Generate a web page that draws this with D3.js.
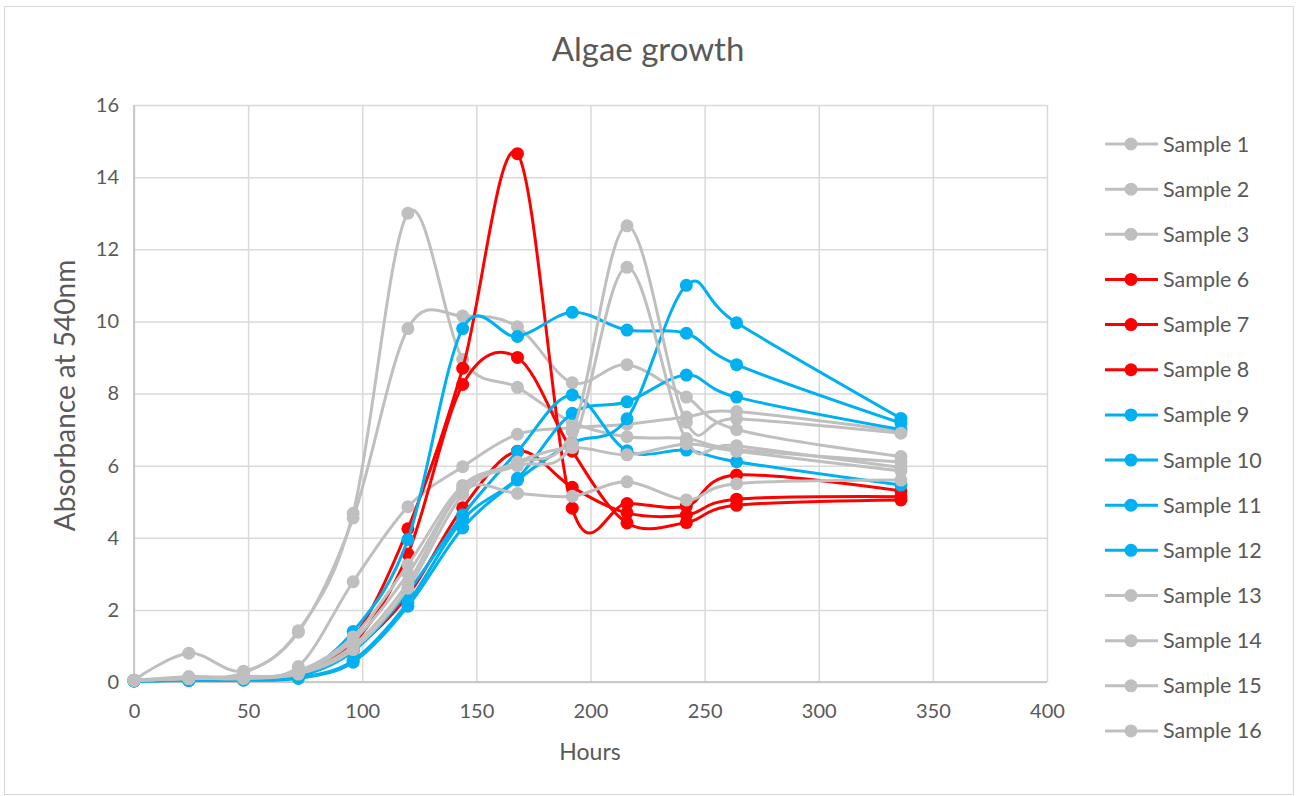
<!DOCTYPE html>
<html>
  <head>
    <meta charset="utf-8">
    <style type="text/css">
      body { margin: 0; background: #fff; font-family: Lato, "Open Sans", sans-serif; }
      .tick text { fill: #595959; font-size: 20px; font-family: Lato, sans-serif; }
    </style>
    <title>Algae growth</title>
  </head>
  <body>
    <script src="https://cdn.jsdelivr.net/npm/d3@7"></script>
    <script>

/*========== Data ==========*/
const hours = [0, 24, 48, 72, 96, 120, 144, 168, 192, 216, 242, 264, 336];

const sample1  = [0.05, 0.80, 0.30, 1.42, 4.68, 13.00, 8.95, 8.17, 7.20, 6.80, 6.75, 6.45, 6.10];
const sample2  = [0.05, 0.15, 0.25, 1.38, 4.55, 9.80, 10.15, 9.85, 8.30, 8.80, 7.90, 7.00, 6.25];
const sample3  = [0.05, 0.12, 0.15, 0.43, 2.78, 4.86, 5.97, 6.87, 7.05, 7.15, 7.35, 7.50, 6.95];
const sample6  = [0.04, 0.07, 0.10, 0.22, 1.20, 4.25, 8.70, 14.65, 4.82, 4.95, 4.88, 5.74, 5.30];
const sample7  = [0.04, 0.07, 0.09, 0.20, 1.05, 3.55, 8.25, 9.00, 6.40, 4.41, 4.42, 4.90, 5.05];
const sample8  = [0.04, 0.06, 0.08, 0.18, 0.90, 2.40, 4.83, 6.40, 5.40, 4.69, 4.63, 5.07, 5.14];
const sample9  = [0.03, 0.05, 0.07, 0.20, 1.40, 3.95, 9.80, 9.58, 10.25, 9.76, 9.67, 8.80, 7.18];
const sample10 = [0.03, 0.05, 0.06, 0.15, 0.85, 2.50, 4.63, 6.39, 7.96, 6.41, 6.43, 6.11, 5.46];
const sample11 = [0.03, 0.05, 0.06, 0.12, 0.60, 2.20, 4.50, 5.65, 7.45, 7.77, 8.51, 7.90, 7.00];
const sample12 = [0.03, 0.04, 0.05, 0.10, 0.55, 2.10, 4.27, 5.60, 6.63, 7.30, 11.00, 9.96, 7.31];
const sample13 = [0.05, 0.10, 0.12, 0.30, 1.25, 3.25, 5.45, 6.08, 6.95, 12.65, 7.20, 7.30, 6.90];
const sample14 = [0.05, 0.10, 0.12, 0.28, 1.15, 3.00, 5.35, 6.00, 6.60, 11.50, 6.70, 6.55, 5.95];
const sample15 = [0.05, 0.10, 0.10, 0.25, 1.00, 2.75, 5.30, 5.23, 5.15, 5.55, 5.05, 5.50, 5.60];
const sample16 = [0.05, 0.10, 0.10, 0.22, 0.90, 2.60, 5.20, 6.10, 6.50, 6.30, 6.60, 6.40, 5.85];

const sampleNames = ['Sample 1', 'Sample 2', 'Sample 3', 'Sample 6', 'Sample 7', 'Sample 8',
  'Sample 9', 'Sample 10', 'Sample 11', 'Sample 12', 'Sample 13', 'Sample 14', 'Sample 15', 'Sample 16'];
const sampleValues = [sample1, sample2, sample3, sample6, sample7, sample8,
  sample9, sample10, sample11, sample12, sample13, sample14, sample15, sample16];
const sampleColors = ['#BFBFBF', '#BFBFBF', '#BFBFBF', '#FF0000', '#FF0000', '#FF0000',
  '#00B0F0', '#00B0F0', '#00B0F0', '#00B0F0', '#BFBFBF', '#BFBFBF', '#BFBFBF', '#BFBFBF'];

const xTicks = [0, 50, 100, 150, 200, 250, 300, 350, 400];
const yTicks = [0, 2, 4, 6, 8, 10, 12, 14, 16];

/*========== Zones ==========*/
const W = 1298, H = 796;
const plot = {left: 134, right: 1047, top: 105, bottom: 682};

var svg = d3.select("body").append("svg")
    .attr("width", W)
    .attr("height", H);

// chart border
svg.append("rect")
    .attr("x", 4.5).attr("y", 6.5)
    .attr("width", 1289).attr("height", 788)
    .attr("fill", "#fff")
    .attr("stroke", "#D9D9D9");

var x = d3.scaleLinear().domain([0, 400]).range([plot.left, plot.right]);
var y = d3.scaleLinear().domain([0, 16]).range([plot.bottom, plot.top]);

// grid + axes
svg.append("g")
    .attr("transform", `translate(0,${plot.bottom})`)
    .call(d3.axisBottom(x).tickValues(xTicks).tickSize(-(plot.bottom - plot.top)).tickPadding(22))
    .call(g => g.select(".domain").remove())
    .call(g => g.selectAll("line").attr("stroke", "#D9D9D9").attr("stroke-width", 1.5));

svg.append("g")
    .attr("transform", `translate(${plot.left},0)`)
    .call(d3.axisLeft(y).tickValues(yTicks).tickSize(-(plot.right - plot.left)).tickPadding(15))
    .call(g => g.select(".domain").remove())
    .call(g => g.selectAll("line").attr("stroke", "#D9D9D9").attr("stroke-width", 1.5));

// axis lines
svg.append("line")
    .attr("x1", plot.left).attr("x2", plot.right)
    .attr("y1", plot.bottom).attr("y2", plot.bottom)
    .attr("stroke", "#BFBFBF").attr("stroke-width", 1.5);
svg.append("line")
    .attr("x1", plot.left).attr("x2", plot.left)
    .attr("y1", plot.top).attr("y2", plot.bottom)
    .attr("stroke", "#BFBFBF").attr("stroke-width", 1.5);

// titles
svg.append("text")
    .attr("x", 648).attr("y", 61)
    .attr("text-anchor", "middle")
    .attr("fill", "#595959")
    .style("font-size", "33px")
  .text("Algae growth");

svg.append("text")
    .attr("x", 590).attr("y", 760)
    .attr("text-anchor", "middle")
    .attr("fill", "#595959")
    .style("font-size", "23px")
  .text("Hours");

svg.append("text")
    .attr("transform", `translate(75,${(plot.top + plot.bottom) / 2 + 2}) rotate(-90)`)
    .attr("text-anchor", "middle")
    .attr("fill", "#595959")
    .style("font-size", "28px")
  .text("Absorbance at 540nm");

/*========== Series ==========*/
var line = d3.line()
    .x((d, i) => x(hours[i]))
    .y(d => y(d))
    .curve(d3.curveCardinal.tension(0));

for (let s = 0; s < sampleValues.length; s++) {
  var g = svg.append("g").attr("class", "series");
  g.append("path")
      .attr("d", line(sampleValues[s]))
      .attr("fill", "none")
      .attr("stroke", sampleColors[s])
      .attr("stroke-width", 3)
      .attr("stroke-linejoin", "round");
  g.selectAll("circle")
    .data(sampleValues[s])
    .enter()
    .append("circle")
      .attr("cx", (d, i) => x(hours[i]))
      .attr("cy", d => y(d))
      .attr("r", 6.5)
      .attr("fill", sampleColors[s]);
}

/*========== Legend ==========*/
var legend = svg.append("g");
for (let j = 0; j < sampleNames.length; j++) {
  var ly = 144 + j * 45.15;
  legend.append("line")
      .attr("x1", 1105).attr("x2", 1158)
      .attr("y1", ly).attr("y2", ly)
      .attr("stroke", sampleColors[j])
      .attr("stroke-width", 3);
  legend.append("circle")
      .attr("cx", 1131).attr("cy", ly)
      .attr("r", 6.5)
      .attr("fill", sampleColors[j]);
  legend.append("text")
      .attr("x", 1163).attr("y", ly + 7.5)
      .attr("fill", "#595959")
      .style("font-size", "21.5px")
    .text(sampleNames[j]);
}

    </script>
  </body>
</html>
